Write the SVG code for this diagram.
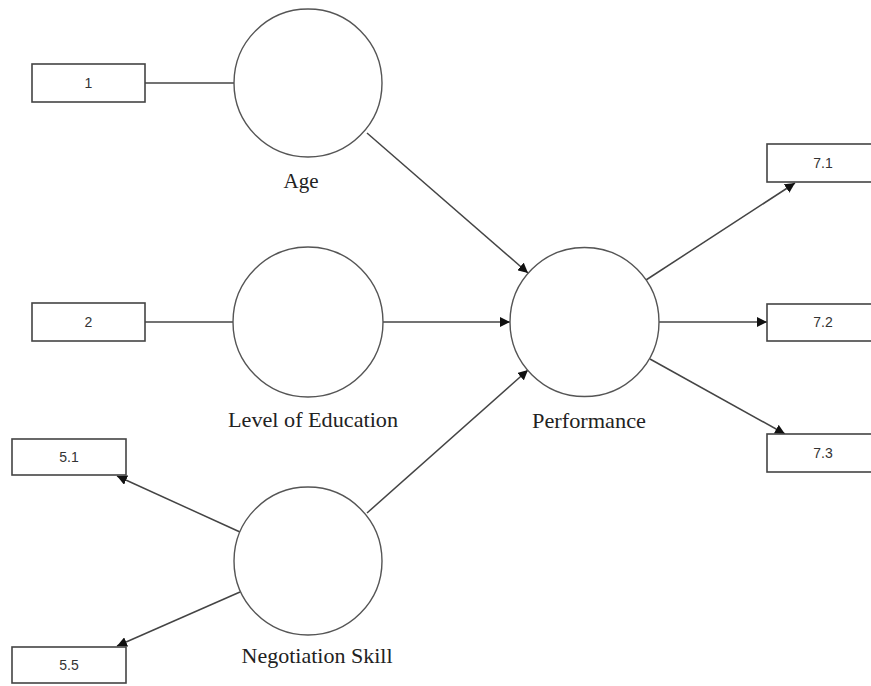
<svg xmlns="http://www.w3.org/2000/svg" width="871" height="686" viewBox="0 0 871 686">
<style>
.box{fill:#fff;stroke:#444;stroke-width:1.6}
.lv{fill:#fff;stroke:#555;stroke-width:1.4}
.bt{font-family:"Liberation Sans",Arial,sans-serif;font-size:14px;fill:#333;text-anchor:middle}
.lt{font-family:"Liberation Serif","Times New Roman",serif;font-size:21px;fill:#222;text-anchor:middle}
.c{stroke:#444;stroke-width:1.5;fill:none}
.a{stroke:#444;stroke-width:1.5;fill:none;marker-end:url(#ah)}
</style>
<defs>
<marker id="ah" viewBox="0 0 10 10" refX="10" refY="5" markerWidth="10" markerHeight="10" markerUnits="userSpaceOnUse" orient="auto">
<path d="M0,0 L10,5 L0,10 z" fill="#111"/>
</marker>
</defs>
<rect width="871" height="686" fill="#fff"/>
<g id="connectors">
<line class="c" x1="145" y1="83" x2="234" y2="83"/>
<line class="c" x1="145" y1="322" x2="233" y2="322"/>
<line class="a" x1="367" y1="133" x2="528" y2="273"/>
<line class="a" x1="382" y1="322" x2="510" y2="322"/>
<line class="a" x1="367" y1="513" x2="528" y2="370"/>
<line class="a" x1="646" y1="280" x2="795" y2="183"/>
<line class="a" x1="659" y1="322" x2="767" y2="322"/>
<line class="a" x1="650" y1="359" x2="785" y2="434"/>
<line class="a" x1="240" y1="532" x2="117" y2="476"/>
<line class="a" x1="240" y1="592" x2="117" y2="646"/>
</g>
<g id="ind1"><rect class="box" x="32" y="64" width="113" height="38"/><text class="bt" x="88.5" y="88">1</text></g>
<g id="ind2"><rect class="box" x="32" y="303" width="113" height="38"/><text class="bt" x="88.5" y="327">2</text></g>
<g id="ind51"><rect class="box" x="12" y="439" width="114" height="36"/><text class="bt" x="69" y="462">5.1</text></g>
<g id="ind55"><rect class="box" x="12" y="647" width="114" height="36"/><text class="bt" x="69" y="670">5.5</text></g>
<g id="ind71"><rect class="box" x="767" y="144" width="113" height="38"/><text class="bt" x="823" y="168">7.1</text></g>
<g id="ind72"><rect class="box" x="767" y="304" width="113" height="37"/><text class="bt" x="823" y="327">7.2</text></g>
<g id="ind73"><rect class="box" x="767" y="434" width="113" height="38"/><text class="bt" x="823" y="458">7.3</text></g>
<g id="age"><circle class="lv" cx="308" cy="83" r="74"/><text class="lt" x="301" y="188">Age</text></g>
<g id="edu"><circle class="lv" cx="308" cy="322" r="75"/><text class="lt" x="313" y="427" textLength="170" lengthAdjust="spacingAndGlyphs">Level of Education</text></g>
<g id="neg"><circle class="lv" cx="308" cy="561" r="74"/><text class="lt" x="317" y="663" textLength="151" lengthAdjust="spacingAndGlyphs">Negotiation Skill</text></g>
<g id="perf"><circle class="lv" cx="584.5" cy="322" r="74.5"/><text class="lt" x="589" y="428" textLength="114" lengthAdjust="spacingAndGlyphs">Performance</text></g>
</svg>
